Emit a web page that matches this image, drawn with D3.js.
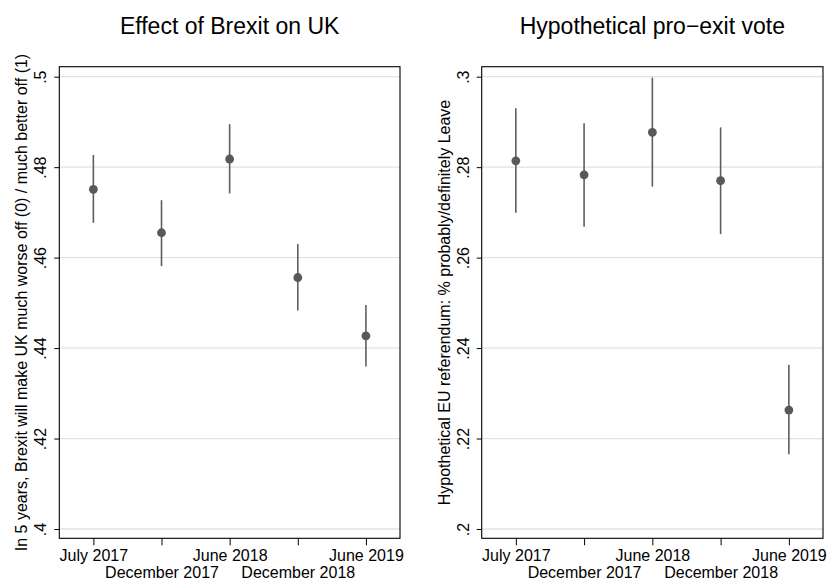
<!DOCTYPE html>
<html>
<head>
<meta charset="utf-8">
<script src="https://cdn.jsdelivr.net/npm/d3@7"></script>
<style>
  body { margin: 0; background: #fff; }
  svg { display: block; }
  text { font-family: "Liberation Sans", Arial, Helvetica, sans-serif; fill: #000; }
</style>
</head>
<body>
<svg id="chart" width="829" height="580"></svg>
<script>

// survey waves (x axis)
var waves = ["July 2017", "December 2017", "June 2018", "December 2018", "June 2019"]

// left panel: effect of Brexit on UK (mean and 95% CI)
var effectMean = [0.4751, 0.4655, 0.4818, 0.4556, 0.4427]
var effectLo   = [0.4677, 0.4581, 0.4742, 0.4483, 0.4359]
var effectHi   = [0.4827, 0.4727, 0.4895, 0.4630, 0.4495]
var effectTicks = [0.4, 0.42, 0.44, 0.46, 0.48, 0.5]

// right panel: hypothetical pro-exit vote
var voteMean = [0.2814, 0.2783, 0.2877, 0.2770, 0.2263]
var voteLo   = [0.2699, 0.2668, 0.2757, 0.2652, 0.2165]
var voteHi   = [0.2930, 0.2897, 0.2998, 0.2888, 0.2363]
var voteTicks = [0.2, 0.22, 0.24, 0.26, 0.28, 0.3]

var svg = d3.select("#chart")

// stata style labels: .48 instead of 0.48
function stataFmt(v) {
  return d3.format("~g")(+v.toFixed(2)).replace(/^0\./, ".")
}

function drawPanel(opts) {

  var g = svg.append("g")
  var left = opts.left, right = opts.right
  var top = 66.7, bottom = 538.3

  var x = d3.scalePoint().domain(waves).range([left, right]).padding(0.5)
  var y = d3.scaleLinear().domain(opts.domain).range([529, 76.7])

  // gridlines
  g.selectAll(".grid").data(opts.ticks).enter().append("line")
    .attr("class", "grid")
    .attr("x1", left).attr("x2", right)
    .attr("y1", function(d){ return y(d); })
    .attr("y2", function(d){ return y(d); })
    .style("stroke", "#e2e2e2")
    .style("stroke-width", 1.3)

  // y axis
  var yAxis = g.append("g")
    .attr("transform", "translate(" + left + ",0)")
    .call(d3.axisLeft(y).tickValues(opts.ticks).tickFormat(stataFmt).tickSize(5).tickSizeOuter(0))
  yAxis.select(".domain").remove()
  yAxis.selectAll(".tick line").style("stroke", "#000")
  yAxis.selectAll(".tick text")
    .attr("x", null).attr("dy", null)
    .attr("transform", "translate(-13,0) rotate(-90)")
    .attr("text-anchor", "middle")
    .style("font-size", "16px")
    .style("font-family", null)

  // x axis
  var xAxis = g.append("g")
    .attr("transform", "translate(0," + bottom + ")")
    .call(d3.axisBottom(x).tickSize(7).tickSizeOuter(0))
  xAxis.select(".domain").remove()
  xAxis.selectAll(".tick line").style("stroke", "#000")
  xAxis.selectAll(".tick text")
    .attr("dy", null)
    .attr("y", function(d, i){ return i % 2 == 0 ? 22.5 : 39.5; })
    .style("font-size", "16px")
    .style("font-family", null)

  // plot region box
  g.append("rect")
    .attr("x", left).attr("y", top)
    .attr("width", right - left).attr("height", bottom - top)
    .style("fill", "none")
    .style("stroke", "#000")
    .style("stroke-width", 1.1)

  // confidence intervals
  g.selectAll(".ci").data(waves).enter().append("line")
    .attr("class", "ci")
    .attr("x1", function(d){ return x(d); })
    .attr("x2", function(d){ return x(d); })
    .attr("y1", function(d, i){ return y(opts.lo[i]); })
    .attr("y2", function(d, i){ return y(opts.hi[i]); })
    .style("stroke", "#5e5e5e")
    .style("stroke-width", 1.6)

  // point estimates
  g.selectAll(".pt").data(waves).enter().append("circle")
    .attr("class", "pt")
    .attr("cx", function(d){ return x(d); })
    .attr("cy", function(d, i){ return y(opts.mean[i]); })
    .attr("r", 4.4)
    .style("fill", "#595959")

  // titles
  g.append("text")
    .attr("x", (left + right) / 2).attr("y", 33.5)
    .attr("text-anchor", "middle")
    .style("font-size", "23px")
    .text(opts.title)

  g.append("text")
    .attr("transform", "translate(" + (left - 32) + "," + ((top + bottom) / 2) + ") rotate(-90)")
    .attr("text-anchor", "middle")
    .style("font-size", "16px")
    .text(opts.ytitle)
}

drawPanel({
  left: 59.3, right: 400,
  domain: [0.4, 0.5], ticks: effectTicks,
  mean: effectMean, lo: effectLo, hi: effectHi,
  title: "Effect of Brexit on UK",
  ytitle: "In 5 years, Brexit will make UK much worse off (0) / much better off (1)"
})

drawPanel({
  left: 481.7, right: 823,
  domain: [0.2, 0.3], ticks: voteTicks,
  mean: voteMean, lo: voteLo, hi: voteHi,
  title: "Hypothetical pro\u2212exit vote",
  ytitle: "Hypothetical EU referendum: % probably/definitely Leave"
})

</script>
</body>
</html>
